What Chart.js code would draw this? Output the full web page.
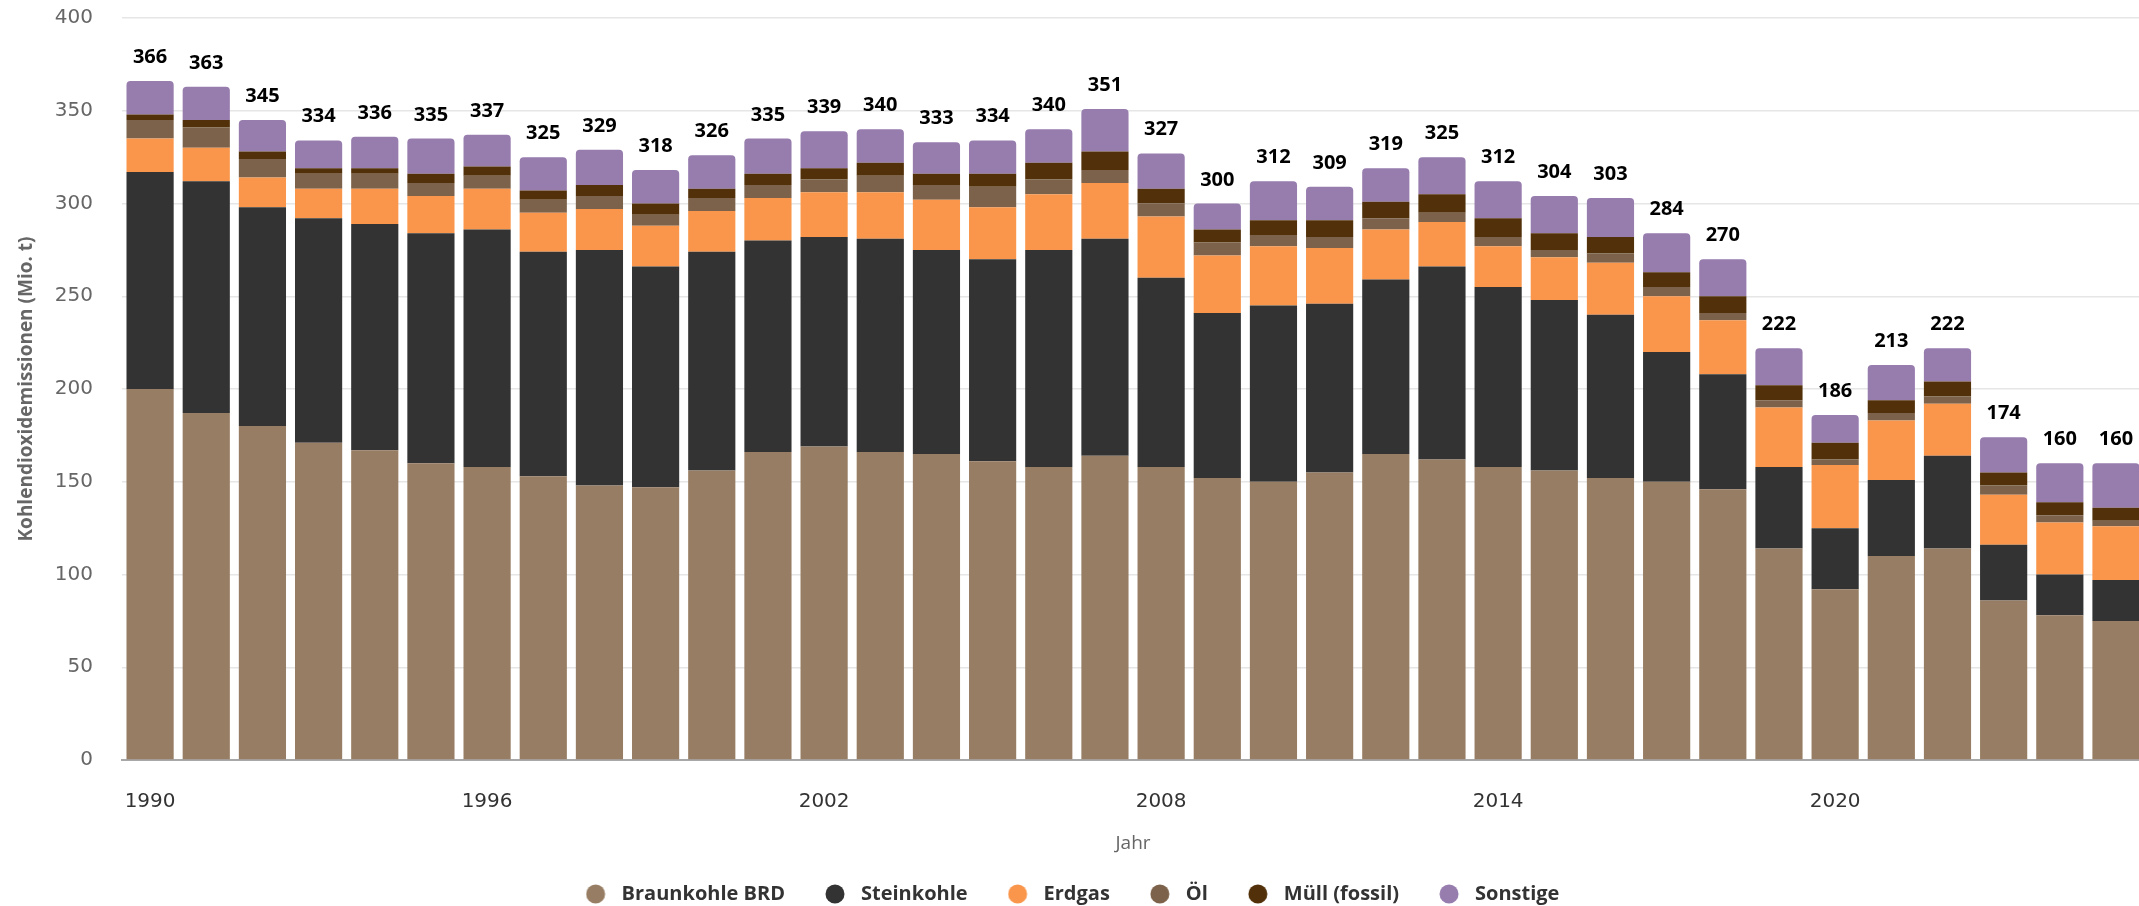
<!DOCTYPE html>
<html>
<head>
<meta charset="utf-8">
<script src="https://cdn.jsdelivr.net/npm/chart.js@4.4.1/dist/chart.umd.min.js"></script>
<style>
  html, body { margin: 0; padding: 0; background: #ffffff; overflow: hidden; }
  #wrap { width: 2146px; height: 906px; }
</style>
</head>
<body>
<div id="wrap"><canvas id="c" width="2146" height="906"></canvas></div>
<script>
// ---- Data (Mio. t CO2) ----
const years = [1990,1991,1992,1993,1994,1995,1996,1997,1998,1999,
               2000,2001,2002,2003,2004,2005,2006,2007,2008,2009,
               2010,2011,2012,2013,2014,2015,2016,2017,2018,2019,
               2020,2021,2022,2023,2024,2025];
const braunkohle = [200,187,180,171,167,160,158,153,148,147,
                    156,166,169,166,165,161,158,164,158,152,
                    150,155,165,162,158,156,152,150,146,114,
                    92,110,114,86,78,75];
const steinkohle = [117,125,118,121,122,124,128,121,127,119,
                    118,114,113,115,110,109,117,117,102,89,
                    95,91,94,104,97,92,88,70,62,44,
                    33,41,50,30,22,22];
const erdgas = [18,18,16,16,19,20,22,21,22,22,
                22,23,24,25,27,28,30,30,33,31,
                32,30,27,24,22,23,28,30,29,32,
                34,32,28,27,28,29];
const oel = [10,11,10,8,8,7,7,7,7,6,
             7,7,7,9,8,11,8,7,7,7,
             6,6,6,5,5,4,5,5,4,4,
             3,4,4,5,4,3];
const muell = [3,4,4,3,3,5,5,5,6,6,
               5,6,6,7,6,7,9,10,8,7,
               8,9,9,10,10,9,9,8,9,8,
               9,7,8,7,7,7];
const sonstige = [18,18,17,15,17,19,17,18,19,18,
                  18,19,20,18,17,18,18,23,19,14,
                  21,18,18,20,20,20,21,21,20,20,
                  15,19,18,19,21,24];
const tickYears = [1990,1996,2002,2008,2014,2020];
const yTicks = [0,50,100,150,200,250,300,350,400];

const seriesNames = ['Braunkohle BRD','Steinkohle','Erdgas','Öl','Müll (fossil)','Sonstige'];
const seriesData = [braunkohle, steinkohle, erdgas, oel, muell, sonstige];
const seriesColors = ['#977d63','#333333','#f9964b','#7c624a','#52300a','#977cae'];

const FONT = '"Open Sans", "Noto Sans", "DejaVu Sans", sans-serif';
const TICKFONT = '"DejaVu Sans", "Open Sans", sans-serif';

// legend marker: circle drawn at left part of a wider transparent image
function makeMarker(color) {
  const c = document.createElement('canvas');
  c.width = 26; c.height = 20;
  const g = c.getContext('2d');
  g.fillStyle = color;
  g.beginPath();
  g.arc(10, 10, 9.5, 0, Math.PI * 2);
  g.fill();
  return c;
}
const markers = seriesColors.map(makeMarker);

const datasets = seriesNames.map((name, k) => ({
  label: name,
  data: seriesData[k],
  backgroundColor: seriesColors[k],
  borderWidth: 0,
  borderRadius: k === seriesNames.length - 1 ? {topLeft: 4, topRight: 4, bottomLeft: 0, bottomRight: 0} : 0,
  borderSkipped: false,
  categoryPercentage: 1.0,
  barPercentage: 0.84
}));

const totalsLabelPlugin = {
  id: 'totalsLabel',
  afterDatasetsDraw(chart) {
    const ctx = chart.ctx;
    const yScale = chart.scales.y;
    const lastMeta = chart.getDatasetMeta(chart.data.datasets.length - 1);
    ctx.save();
    ctx.font = 'bold 20px ' + FONT;
    ctx.fillStyle = '#000000';
    ctx.textAlign = 'center';
    ctx.textBaseline = 'alphabetic';
    years.forEach((yr, i) => {
      let total = 0;
      seriesData.forEach(arr => { total += arr[i]; });
      const x = lastMeta.data[i].x;
      const y = yScale.getPixelForValue(total) - 18;
      ctx.fillText(String(Math.round(total)), x, y);
    });
    ctx.restore();
  }
};

new Chart(document.getElementById('c'), {
  type: 'bar',
  data: { labels: years.map(String), datasets },
  options: {
    responsive: false,
    animation: false,
    events: [],
    layout: { padding: { top: 18, right: 1, bottom: -8, left: 0 } },
    plugins: {
      tooltip: { enabled: false },
      legend: {
        display: true,
        position: 'bottom',
        labels: {
          usePointStyle: true,
          pointStyleWidth: 26,
          boxHeight: 14,
          padding: 40,
          color: '#333333',
          font: { family: FONT, size: 20, weight: 'bold' },
          generateLabels(chart) {
            const items = Chart.defaults.plugins.legend.labels.generateLabels(chart);
            items.forEach((it) => { it.pointStyle = markers[it.datasetIndex]; });
            return items;
          }
        }
      }
    },
    scales: {
      x: {
        stacked: true,
        grid: { display: false, drawTicks: false },
        border: { display: true, color: '#a8a8a8', width: 2 },
        ticks: {
          autoSkip: false,
          maxRotation: 0,
          minRotation: 0,
          padding: 30,
          color: '#333333',
          font: { family: TICKFONT, size: 20 },
          callback: function(value, index) {
            const yr = years[index];
            return tickYears.includes(yr) ? String(yr) : '';
          }
        },
        title: {
          display: true,
          text: 'Jahr',
          color: '#666666',
          font: { family: FONT, size: 19 },
          padding: { top: 0, bottom: -11 }
        },
        afterFit(scale) { scale.height = 84; }
      },
      y: {
        stacked: true,
        min: 0,
        max: 400,
        afterBuildTicks(scale) { scale.ticks = yTicks.map(v => ({ value: v })); },
        grid: { color: '#e6e6e6', lineWidth: 1.5, drawTicks: true, tickLength: 24, tickColor: 'rgba(0,0,0,0)' },
        border: { display: false },
        ticks: {
          padding: 5,
          color: '#666666',
          font: { family: TICKFONT, size: 20 }
        },
        title: {
          display: true,
          text: 'Kohlendioxidemissionen (Mio. t)',
          color: '#666666',
          font: { family: FONT, size: 19, weight: 'bold' },
          padding: { top: 15, bottom: 0 }
        },
        afterFit(scale) { scale.width = 122; }
      }
    }
  },
  plugins: [totalsLabelPlugin]
});
</script>
</body>
</html>
